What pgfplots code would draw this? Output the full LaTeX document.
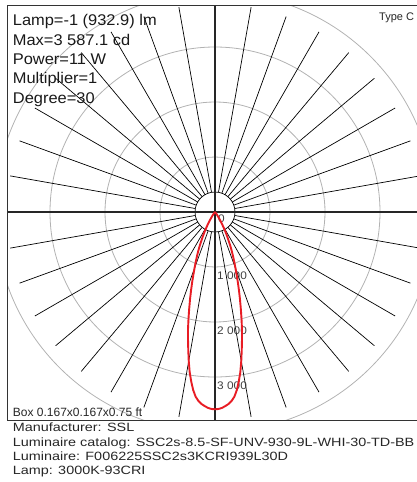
\documentclass[border=0pt]{standalone}
\usepackage{fontspec}
\setmainfont{Liberation Sans}
\newfontfamily\bigf[FakeStretch=1.06]{Liberation Sans}
\newfontfamily\botf[FakeStretch=1.2]{Liberation Sans}
\newfontfamily\tickf[FakeStretch=1.08]{Liberation Sans}
\usepackage{pgfplots}
\pgfplotsset{compat=1.18}
\definecolor{lobe}{RGB}{232,28,36}
\begin{document}
\begin{tikzpicture}
\path[use as bounding box] (0,0) rectangle (417pt,-482pt);
\begin{scope}[x=1pt,y=1pt]
  \begin{scope}
    \clip (7,-5) rectangle (417,-420);
    \begin{scope}[shift={(215,-212)}]
      \foreach \r in {55,110,165,220} \draw[black!30, line width=0.8pt] (0,0) circle[radius=\r pt];
      \foreach \a in {0,10,...,350} \draw[black, line width=0.7pt] (\a:20pt) -- (\a:208pt);
      \filldraw[fill=white, draw=black, line width=0.7pt] (0,0) circle[radius=20pt];
    \end{scope}
    \draw[black!85, line width=1.1pt] (7,-212) -- (417,-212);
    \draw[black!85, line width=1.1pt] (215,-5) -- (215,-420);
  \end{scope}
  \draw[black!80, line width=0.9pt] (417,-5) -- (7,-5) -- (7,-420) -- (417,-420);
  % labels
  \foreach \t/\yy in {{Lamp=-1 (932.9) lm}/25.5, {Max=3 587.1 cd}/45, {Power=11 W}/64.4, {Multiplier=1}/83.8, {Degree=30}/103.2}
    \node[anchor=base west, inner sep=0, text=black!90, font=\bigf\fontsize{15.5}{18}\selectfont] at (12.7,-\yy) {\t};
  \node[anchor=base west, inner sep=0, text=black!85, font=\fontsize{11}{13}\selectfont] at (379,-20.5) {Type C};
  \node[anchor=base west, inner sep=0, text=black!85, font=\fontsize{12}{14}\selectfont] at (12.7,-416.5) {Box 0.167x0.167x0.75 ft};
  \foreach \t/\yy in {{Manufacturer: SSL}/431.5, {Luminaire catalog: SSC2s-8.5-SF-UNV-930-9L-WHI-30-TD-BB}/446, {Luminaire: F006225SSC2s3KCRI939L30D}/460.3, {Lamp: 3000K-93CRI}/474.7}
    \node[anchor=base west, inner sep=0, text=black!85, font=\botf\fontsize{12}{14}\selectfont] at (12.7,-\yy) {\t};
  \foreach \t/\xx/\yy in {0/218/222.3, {1 000}/217/279, {2 000}/217/334, {3 000}/217/389}
    \node[anchor=base west, inner sep=0, text=black!75, font=\tickf\fontsize{11}{13}\selectfont] at (\xx,-\yy) {\t};
\end{scope}
\begin{axis}[at={(7pt,-420pt)}, anchor=south west, scale only axis,
  width=410pt, height=415pt,
  xmin=-3781.8, xmax=3672.7, ymin=-3781.8, ymax=3763.6, hide axis]
\addplot[color=lobe, line width=1.9pt, data cs=polar] coordinates {
(-40,0) (-45,4) (-50,14) (-52,28) (-54,55) (-56,100) (-58,170) (-60,266) (-61,325) (-62,390)
(-63,460) (-64,530) (-65,615) (-66,705) (-67,795) (-68,885) (-69,985) (-70,1090) (-71,1210)
(-72,1345) (-73,1490) (-74,1645) (-75,1810) (-76,1990) (-77,2180) (-78,2360) (-79,2550)
(-80,2750) (-81,2945) (-82,3110) (-83,3260) (-84,3375) (-85,3450) (-86,3500) (-87,3535)
(-88,3565) (-89,3582) (-90,3587)
(-91,3582) (-92,3565) (-93,3535) (-94,3500) (-95,3450) (-96,3375) (-97,3260) (-98,3110)
(-99,2945) (-100,2750) (-101,2550) (-102,2360) (-103,2180) (-104,1990) (-105,1810) (-106,1645)
(-107,1490) (-108,1345) (-109,1210) (-110,1090) (-111,985) (-112,885) (-113,795) (-114,705)
(-115,615) (-116,530) (-117,460) (-118,390) (-119,325) (-120,266) (-122,170) (-124,100)
(-126,55) (-128,28) (-130,14) (-135,4) (-140,0)
};
\end{axis}
\end{tikzpicture}
\end{document}
